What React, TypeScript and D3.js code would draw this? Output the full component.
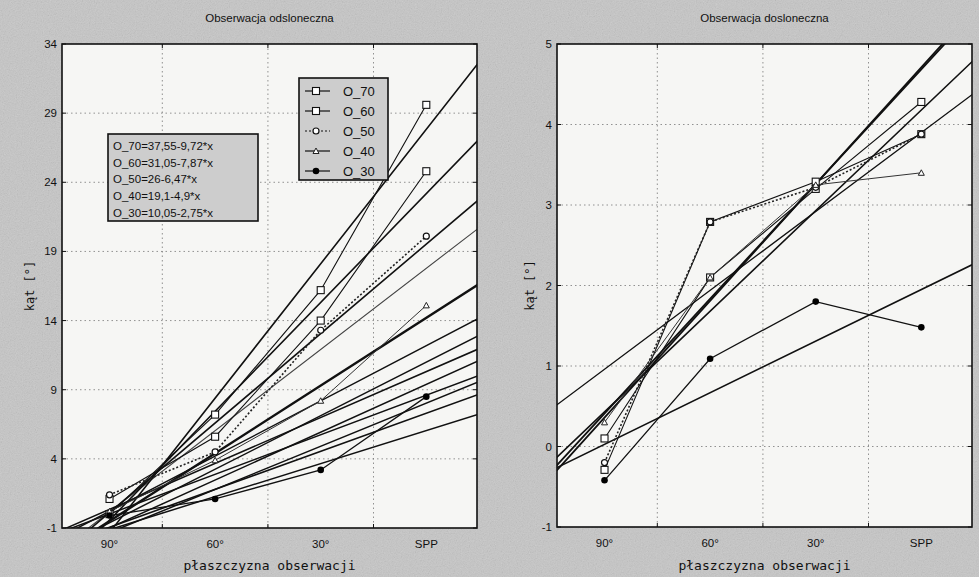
import React from 'react';
import * as d3 from 'd3';

// categories (x coded 90°=4 ... SPP=1, as in the fitted equations)
const CATS = ['90°', '60°', '30°', 'SPP'];
const CAT_CODE = [4, 3, 2, 1];
const GRID_X = [3.5, 2.5, 1.5];

const LEFT_Y_TICKS = [-1, 4, 9, 14, 19, 24, 29, 34];
const RIGHT_Y_TICKS = [-1, 0, 1, 2, 3, 4, 5];

const SERIES = ['O_70', 'O_60', 'O_50', 'O_40', 'O_30'];

// left panel - observed means
const L_O70 = [0, 7.2, 16.2, 29.6];
const L_O60 = [1.1, 5.6, 14.0, 24.8];
const L_O50 = [1.4, 4.5, 13.3, 20.1];
const L_O40 = [0.2, 3.9, 8.2, 15.1];
const L_O30 = [-0.1, 1.1, 3.2, 8.5];

// left panel - fitted lines (y = a + b*x)
const L_FIT_A = [37.55, 31.05, 26, 19.1, 10.05];
const L_FIT_B = [-9.72, -7.87, -6.47, -4.9, -2.75];
const L_FIT_LABELS = [
  'O_70=37,55-9,72*x',
  'O_60=31,05-7,87*x',
  'O_50=26-6,47*x',
  'O_40=19,1-4,9*x',
  'O_30=10,05-2,75*x',
];
// other fitted lines in the left panel
const L_EXTRA_A = [23.65, 16.17, 14.86, 13.63, 12.85, 11.46, 11.15, 8.44];
const L_EXTRA_B = [-5.87, -3.99, -3.87, -3.32, -3.46, -2.86, -3.12, -2.39];

// right panel - observed means
const R_O70 = [0.1, 2.1, 3.2, 4.28];
const R_O60 = [-0.29, 2.79, 3.29, 3.88];
const R_O50 = [-0.2, 2.79, 3.22, 3.88];
const R_O40 = [0.3, 2.1, 3.25, 3.4];
const R_O30 = [-0.42, 1.09, 1.8, 1.48];

// right panel - fitted lines
const R_FIT_A = [6.11, 5.43, 4.88, 6.16, 2.59];
const R_FIT_B = [-1.425, -1.25, -0.98, -1.45, -0.641];

const STYLE: Record<string, { marker: string; dash?: string; width: number; color: string }> = {
  O_70: { marker: 'square', width: 1.1, color: '#111' },
  O_60: { marker: 'square', width: 1.1, color: '#111' },
  O_50: { marker: 'circle', dash: '2,2', width: 1.6, color: '#222' },
  O_40: { marker: 'triangle', width: 1, color: '#333' },
  O_30: { marker: 'dot', width: 1.3, color: '#111' },
};

const SANS = 'Liberation Sans, Arial, sans-serif';
const MONO = 'DejaVu Sans Mono, monospace';

function Marker({ type, x, y }: { type: string; x: number; y: number }) {
  if (type === 'square')
    return <rect x={x - 3.5} y={y - 3.5} width={7} height={7} fill="#fff" stroke="#111" strokeWidth={1.1} />;
  if (type === 'circle') return <circle cx={x} cy={y} r={3} fill="#fff" stroke="#111" strokeWidth={1.2} />;
  if (type === 'triangle')
    return <path d={`M${x - 3},${y + 2.5}L${x},${y - 3}L${x + 3},${y + 2.5}Z`} fill="#fff" stroke="#222" strokeWidth={1} />;
  return <circle cx={x} cy={y} r={3.3} fill="#000" />;
}

type Panel = {
  id: string;
  title: string;
  x0: number;
  x1: number;
  y0: number;
  y1: number;
  yDomain: [number, number];
  yTicks: number[];
  data: number[][];
  fitA: number[];
  fitB: number[];
  fitWidths: number[];
  extraA?: number[];
  extraB?: number[];
  yLabelX: number;
};

function Chart(p: Panel) {
  const x = d3.scaleLinear().domain([4.45, 0.52]).range([p.x0, p.x1]);
  const y = d3.scaleLinear().domain(p.yDomain).range([p.y1, p.y0]);
  const line = d3
    .line<[number, number]>()
    .x((d) => x(d[0]))
    .y((d) => y(d[1]));
  const fit = (a: number, b: number) => line([4.6, 4.45, 0.52, 0.4].map((v) => [v, a + b * v] as [number, number]));
  const cx = (p.x0 + p.x1) / 2;
  const cy = (p.y0 + p.y1) / 2;
  return (
    <g>
      <defs>
        <clipPath id={`clip-${p.id}`}>
          <rect x={p.x0} y={p.y0} width={p.x1 - p.x0} height={p.y1 - p.y0} />
        </clipPath>
      </defs>
      <rect x={p.x0} y={p.y0} width={p.x1 - p.x0} height={p.y1 - p.y0} fill="#f6f6f4" />
      <text x={cx} y={22} textAnchor="middle" fontFamily={SANS} fontSize={11.5} fill="#111">
        {p.title}
      </text>
      {/* grid */}
      {p.yTicks.slice(1, -1).map((t) => (
        <line key={`gy${t}`} x1={p.x0} x2={p.x1} y1={y(t)} y2={y(t)} stroke="#777" strokeWidth={0.8} strokeDasharray="1.5,3" />
      ))}
      {GRID_X.map((g) => (
        <line key={`gx${g}`} x1={x(g)} x2={x(g)} y1={p.y0} y2={p.y1} stroke="#777" strokeWidth={0.8} strokeDasharray="1.5,3" />
      ))}
      <g clipPath={`url(#clip-${p.id})`}>
        {(p.extraA || []).map((a, i) => (
          <path key={`e${i}`} d={fit(a, p.extraB![i]) || ''} fill="none" stroke={i === 0 ? '#444' : '#111'} strokeWidth={i === 0 ? 1.1 : 1.5} />
        ))}
        {p.fitA.map((a, i) => (
          <path key={`f${i}`} d={fit(a, p.fitB[i]) || ''} fill="none" stroke="#111" strokeWidth={p.fitWidths[i]} />
        ))}
        {SERIES.map((s, si) => {
          const st = STYLE[s];
          const pts = CAT_CODE.map((c, i) => [c, p.data[si][i]] as [number, number]);
          return (
            <g key={s}>
              <path d={line(pts) || ''} fill="none" stroke={st.color} strokeWidth={st.width} strokeDasharray={st.dash} />
            </g>
          );
        })}
        {SERIES.map((s, si) => {
          const st = STYLE[s];
          return (
            <g key={`m${s}`}>
              {CAT_CODE.map((c, i) => (
                <Marker key={i} type={st.marker} x={x(c)} y={y(p.data[si][i])} />
              ))}
            </g>
          );
        })}
      </g>
      {/* frame and ticks */}
      <rect x={p.x0} y={p.y0} width={p.x1 - p.x0} height={p.y1 - p.y0} fill="none" stroke="#111" strokeWidth={1.6} />
      {p.yTicks.map((t) => (
        <g key={`t${t}`}>
          <line x1={p.x0} x2={p.x0 + 4} y1={y(t)} y2={y(t)} stroke="#111" />
          <line x1={p.x1 - 4} x2={p.x1} y1={y(t)} y2={y(t)} stroke="#111" />
          <text x={p.x0 - 5} y={y(t) + 4} textAnchor="end" fontFamily={SANS} fontSize={11.5} fill="#111">
            {t}
          </text>
        </g>
      ))}
      {GRID_X.map((g) => (
        <g key={`tx${g}`}>
          <line x1={x(g)} x2={x(g)} y1={p.y1 - 4} y2={p.y1} stroke="#111" />
          <line x1={x(g)} x2={x(g)} y1={p.y0} y2={p.y0 + 4} stroke="#111" />
        </g>
      ))}
      {CATS.map((c, i) => (
        <text key={c} x={x(CAT_CODE[i])} y={p.y1 + 20} textAnchor="middle" fontFamily={SANS} fontSize={11.5} fill="#111">
          {c}
        </text>
      ))}
      <text x={cx} y={570} textAnchor="middle" fontFamily={MONO} fontSize={13} fill="#111">
        płaszczyzna obserwacji
      </text>
      <text
        transform={`translate(${p.yLabelX},${cy}) rotate(-90)`}
        textAnchor="middle"
        fontFamily={MONO}
        fontSize={12}
        fill="#111"
      >
        kąt [°]
      </text>
    </g>
  );
}

export default function App() {
  const left: Panel = {
    id: 'l',
    title: 'Obserwacja odsloneczna',
    x0: 62,
    x1: 477,
    y0: 44,
    y1: 528,
    yDomain: [-1, 34],
    yTicks: LEFT_Y_TICKS,
    data: [L_O70, L_O60, L_O50, L_O40, L_O30],
    fitA: L_FIT_A,
    fitB: L_FIT_B,
    fitWidths: [1.6, 1.6, 1.6, 2.4, 1.6],
    extraA: L_EXTRA_A,
    extraB: L_EXTRA_B,
    yLabelX: 34,
  };
  const right: Panel = {
    id: 'r',
    title: 'Obserwacja dosloneczna',
    x0: 557,
    x1: 972,
    y0: 44,
    y1: 527,
    yDomain: [-1, 5],
    yTicks: RIGHT_Y_TICKS,
    data: [R_O70, R_O60, R_O50, R_O40, R_O30],
    fitA: R_FIT_A,
    fitB: R_FIT_B,
    fitWidths: [1.8, 1.6, 1.3, 1.8, 1.6],
    yLabelX: 534,
  };
  return (
    <svg width={979} height={577} style={{ position: 'absolute', left: 0, top: 0, display: 'block' }}>
      <defs>
        <filter id="noise" x="0" y="0" width="100%" height="100%">
          <feTurbulence type="fractalNoise" baseFrequency="0.85" numOctaves={2} stitchTiles="stitch" />
          <feColorMatrix type="saturate" values="0" />
        </filter>
      </defs>
      <rect width={979} height={577} fill="#c6c6c6" />
      <rect width={979} height={577} filter="url(#noise)" opacity={0.3} />
      <Chart {...left} />
      <Chart {...right} />
      {/* equation legend */}
      <g>
        <rect x={108} y={134} width={150} height={87} fill="#cdcdcd" stroke="#111" strokeWidth={1.6} />
        {L_FIT_LABELS.map((t, i) => (
          <text key={t} x={113} y={150 + i * 16.7} fontFamily={SANS} fontSize={11.5} fill="#111">
            {t}
          </text>
        ))}
      </g>
      {/* symbol legend */}
      <g>
        <rect x={299} y={78} width={89} height={102} fill="#cdcdcd" stroke="#111" strokeWidth={1.6} />
        {SERIES.map((s, i) => {
          const yy = 91 + i * 20;
          const st = STYLE[s];
          return (
            <g key={s}>
              <line x1={305} x2={330} y1={yy} y2={yy} stroke="#111" strokeWidth={1.2} strokeDasharray={st.dash} />
              <Marker type={st.marker} x={316} y={yy} />
              <text x={343} y={yy + 5} fontFamily={SANS} fontSize={13} fill="#111">
                {s}
              </text>
            </g>
          );
        })}
      </g>
    </svg>
  );
}
